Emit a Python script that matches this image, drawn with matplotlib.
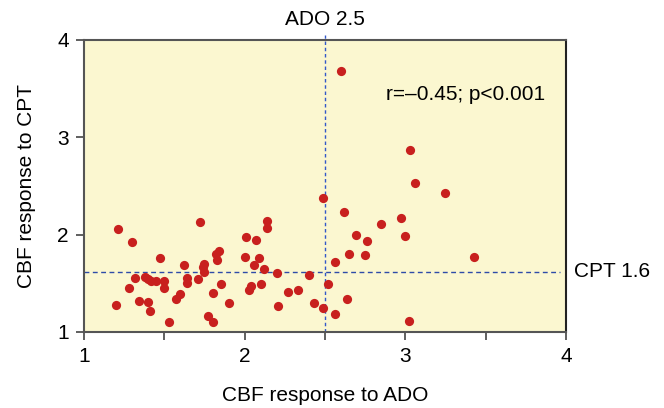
import matplotlib
matplotlib.use("Agg")
import matplotlib.pyplot as plt

# CBF response values
ado = [1.21, 1.30, 1.72, 2.01, 1.47, 1.62, 1.75, 1.74, 1.75, 1.82, 1.84, 1.83,
       2.00, 1.32, 1.38, 1.40, 1.42, 1.45, 1.50, 1.50, 1.64, 1.64, 1.71, 1.85,
       1.28, 1.20, 1.34, 1.40, 1.41, 1.57, 1.60, 1.80, 1.90, 1.53, 1.77, 1.80,
       2.49, 2.62, 2.14, 2.14, 2.85, 2.97, 3.00, 2.07, 2.69, 2.76, 2.09, 2.06,
       2.12, 2.20, 2.65, 2.56, 2.75, 2.40, 2.52, 2.04, 2.03, 2.10, 2.27, 2.33,
       2.21, 2.43, 2.49, 2.64, 2.56, 3.02, 3.03, 3.06, 3.25, 3.43, 2.60]
cpt = [2.06, 1.92, 2.13, 1.98, 1.76, 1.69, 1.70, 1.67, 1.62, 1.80, 1.83, 1.74,
       1.77, 1.55, 1.57, 1.54, 1.52, 1.52, 1.52, 1.45, 1.55, 1.50, 1.54, 1.49,
       1.45, 1.28, 1.32, 1.31, 1.22, 1.34, 1.39, 1.40, 1.30, 1.10, 1.16, 1.10,
       2.38, 2.23, 2.14, 2.07, 2.11, 2.17, 1.99, 1.94, 2.00, 1.93, 1.76, 1.69,
       1.65, 1.61, 1.80, 1.72, 1.79, 1.59, 1.49, 1.47, 1.43, 1.49, 1.41, 1.43,
       1.27, 1.30, 1.25, 1.34, 1.18, 1.11, 2.87, 2.53, 2.43, 1.77, 3.68]

ado_cut = 2.5
cpt_cut = 1.62

plt.rcParams['font.family'] = ['Liberation Sans', 'DejaVu Sans']

fig = plt.figure(figsize=(6.64, 4.08), dpi=100)
ax = fig.add_axes([0.1265, 0.1863, 0.7259, 0.7157])
ax.set_facecolor('#FBF7D0')

ax.scatter(ado, cpt, s=44, color='#C8201E', zorder=3, linewidths=0)

ax.plot([ado_cut, ado_cut], [1, 4.05], color='#3358C8', lw=1,
        dashes=(2.5, 2.0), clip_on=False, zorder=2)
ax.plot([1, 3.96], [cpt_cut, cpt_cut], color='#2E4BA8', lw=1,
        dashes=(3.5, 2.5), zorder=2)

ax.set_xlim(1, 4)
ax.set_ylim(1, 4)
ax.set_xticks([1, 2, 3, 4])
ax.set_xticks([1.5, 2.5, 3.5], minor=True)
ax.set_yticks([1, 2, 3, 4])
ax.tick_params(which='both', direction='out', length=6, width=1.2,
               color='#444444', labelsize=15, pad=5)

for side in ['left', 'top', 'bottom']:
    ax.spines[side].set_color('#555555')
    ax.spines[side].set_linewidth(1.5)
ax.spines['right'].set_color('#222222')
ax.spines['right'].set_linewidth(1.5)

ax.set_xlabel('CBF response to ADO', fontsize=15, labelpad=14)
ax.set_ylabel('CBF response to CPT', fontsize=15, labelpad=15)

ax.text(ado_cut, 4.21, 'ADO 2.5', ha='center', va='center', fontsize=15,
        clip_on=False)
ax.text(4.05, cpt_cut, 'CPT 1.6', ha='left', va='center', fontsize=15,
        clip_on=False)
ax.text(2.88, 3.445, 'r=\u20130.45; p<0.001', ha='left', va='center',
        fontsize=15)

fig.savefig('out.png', dpi=100)
